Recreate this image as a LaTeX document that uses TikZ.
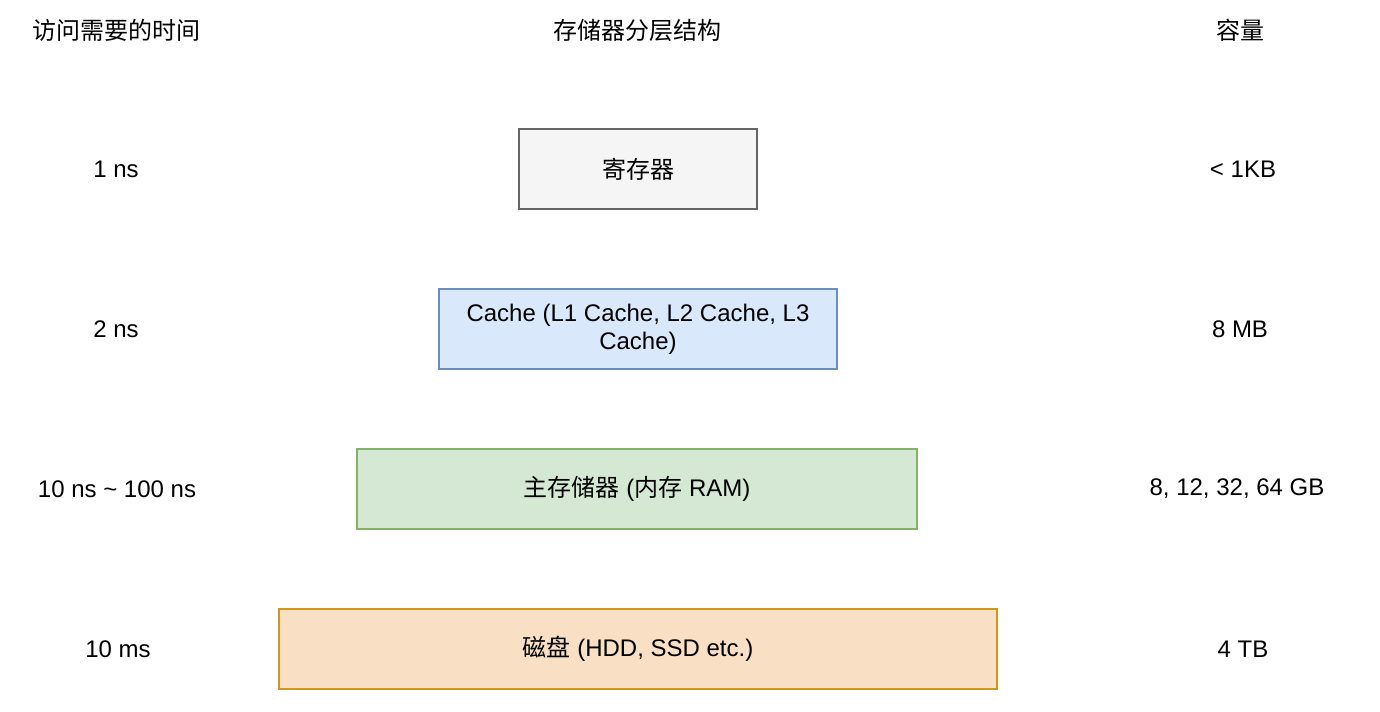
\documentclass[tikz,border=0pt]{standalone}
\usepackage{fontspec}
\setmainfont{Liberation Sans}
\newfontfamily\cjk{Noto Sans CJK SC}
\usepackage{tikz}
\definecolor{grisF}{HTML}{F5F5F5}
\definecolor{grisL}{HTML}{666666}
\definecolor{azulF}{HTML}{DAE8FC}
\definecolor{azulL}{HTML}{6C8EBF}
\definecolor{verdeF}{HTML}{D5E8D4}
\definecolor{verdeL}{HTML}{82B366}
\definecolor{narF}{HTML}{F9E0C4}
\definecolor{narL}{HTML}{D1961A}
\tikzstyle{texto}=[inner sep=0pt,font=\fontsize{18}{21}\selectfont,align=center]
\tikzstyle{capa}=[texto,draw,line width=1.1pt,minimum height=60pt]

\begin{document}
\begin{tikzpicture}[x=0.75pt,y=-0.75pt]
    \useasboundingbox (0,0) rectangle (1380,712);
    % titulos
    \node [texto] (tiempo) at (116,30) {\cjk 访问需要的时间};
    \node [texto] (jerarquia) at (637,30) {\cjk 存储器分层结构};
    \node [texto] (capacidad) at (1240,30) {\cjk 容量};
    % niveles
    \node [capa,fill=grisF,draw=grisL,minimum width=178.5pt] (reg) at (638,169) {\cjk 寄存器};
    \node [capa,fill=azulF,draw=azulL,minimum width=298.5pt] (cache) at (638,329) {Cache (L1 Cache, L2 Cache, L3\\Cache)};
    \node [capa,fill=verdeF,draw=verdeL,minimum width=420pt] (ram) at (637,489) {{\cjk 主存储器} ({\cjk 内存} RAM)};
    \node [capa,fill=narF,draw=narL,minimum width=538.5pt] (disco) at (638,649) {{\cjk 磁盘} (HDD, SSD etc.)};
    % tiempos
    \node [texto] (t1) at (116,169) {1 ns};
    \node [texto] (t2) at (116,329) {2 ns};
    \node [texto] (t3) at (117,489) {10 ns \textasciitilde{} 100 ns};
    \node [texto] (t4) at (118,649) {10 ms};
    % capacidades
    \node [texto] (c1) at (1243,169) {< 1KB};
    \node [texto] (c2) at (1240,329) {8 MB};
    \node [texto] (c3) at (1237,489) {8, 12, 32, 64 GB};
    \node [texto] (c4) at (1243,649) {4 TB};
\end{tikzpicture}
\end{document}
